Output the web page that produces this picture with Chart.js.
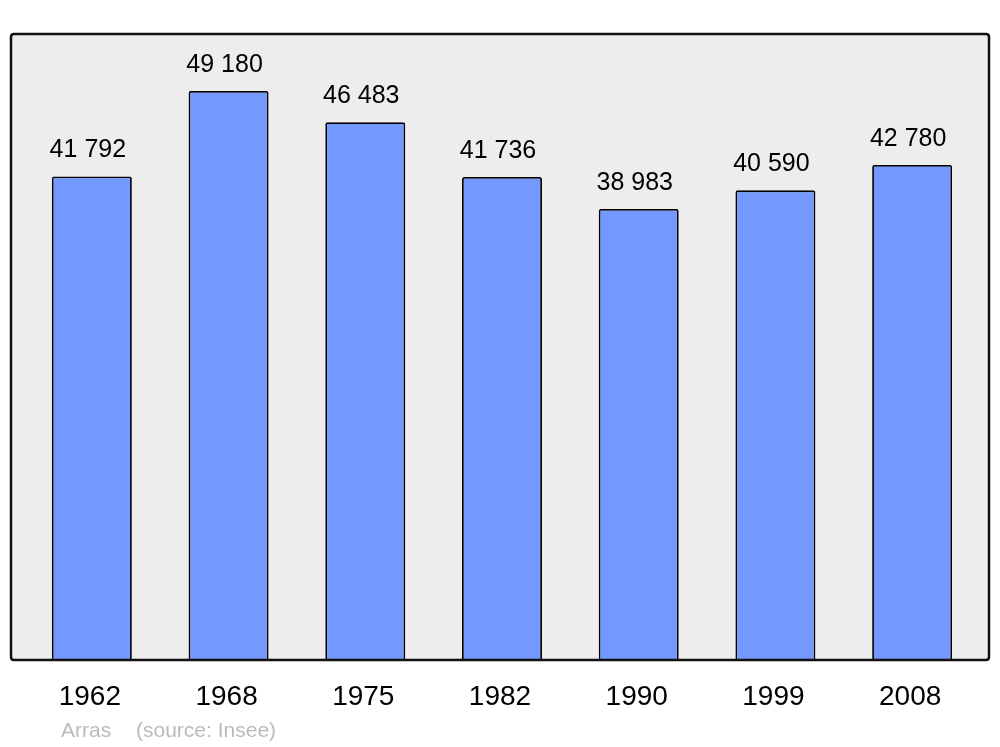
<!DOCTYPE html>
<html>
<head>
<meta charset="utf-8">
<script src="https://cdn.jsdelivr.net/npm/chart.js@4/dist/chart.umd.min.js"></script>
<style>
  html, body { margin: 0; padding: 0; background: #fff; }
  canvas { display: block; }
</style>
</head>
<body>
<canvas id="myChart" width="1000" height="747"></canvas>
<script>
const ctx = document.getElementById('myChart');

const annees = ['1962', '1968', '1975', '1982', '1990', '1999', '2008'];
const population = [41792, 49180, 46483, 41736, 38983, 40590, 42780];
const commune = 'Arras';
const source = '(source: Insee)';

function formatNombre(n) {
    return String(n).replace(/\B(?=(\d{3})+(?!\d))/g, ' ');
}

function roundRect(c, x, y, w, h, r) {
    c.beginPath();
    c.moveTo(x + r, y);
    c.lineTo(x + w - r, y);
    c.quadraticCurveTo(x + w, y, x + w, y + r);
    c.lineTo(x + w, y + h - r);
    c.quadraticCurveTo(x + w, y + h, x + w - r, y + h);
    c.lineTo(x + r, y + h);
    c.quadraticCurveTo(x, y + h, x, y + h - r);
    c.lineTo(x, y + r);
    c.quadraticCurveTo(x, y, x + r, y);
    c.closePath();
}

// fond gris + cadre, étiquettes
const cadre = {
    id: 'cadre',
    beforeDatasetsDraw(chart) {
        const c = chart.ctx;
        c.save();
        roundRect(c, 11, 34, 978, 626, 3);
        c.fillStyle = '#ededed';
        c.fill();
        c.restore();
    },
    afterDatasetsDraw(chart) {
        const c = chart.ctx;
        c.save();
        roundRect(c, 11, 34, 978, 626, 3);
        c.lineWidth = 2.5;
        c.strokeStyle = '#111';
        c.stroke();

        const meta = chart.getDatasetMeta(0);
        const xScale = chart.scales.x;
        c.fillStyle = '#000';
        c.textAlign = 'center';
        c.textBaseline = 'alphabetic';
        meta.data.forEach((bar, i) => {
            c.font = '25px "Liberation Sans", Arial, sans-serif';
            c.fillText(formatNombre(population[i]), bar.x - 4, bar.y - 19);
            c.font = '28px "Liberation Sans", Arial, sans-serif';
            c.fillText(annees[i], xScale.getPixelForValue(i) - 2, 705);
        });

        c.fillStyle = '#bbbbbb';
        c.font = '21px "Liberation Sans", Arial, sans-serif';
        c.textAlign = 'left';
        c.fillText(commune, 61, 737);
        c.fillText(source, 136, 737);
        c.restore();
    }
};

new Chart(ctx, {
    type: 'bar',
    data: {
        labels: annees,
        datasets: [{
            data: population,
            backgroundColor: '#7399ff',
            borderColor: '#000',
            borderWidth: 1.8,
            borderSkipped: 'bottom',
            borderRadius: { topLeft: 2, topRight: 2 },
            barPercentage: 0.585,
            categoryPercentage: 1
        }]
    },
    options: {
        responsive: false,
        animation: false,
        layout: { padding: { left: 23.5, right: 19.5, top: 34, bottom: 87 } },
        scales: {
            x: { display: false },
            y: { display: false, min: 0, max: 54100 }
        },
        plugins: {
            legend: { display: false },
            tooltip: { enabled: false }
        }
    },
    plugins: [cadre]
});
</script>
</body>
</html>
